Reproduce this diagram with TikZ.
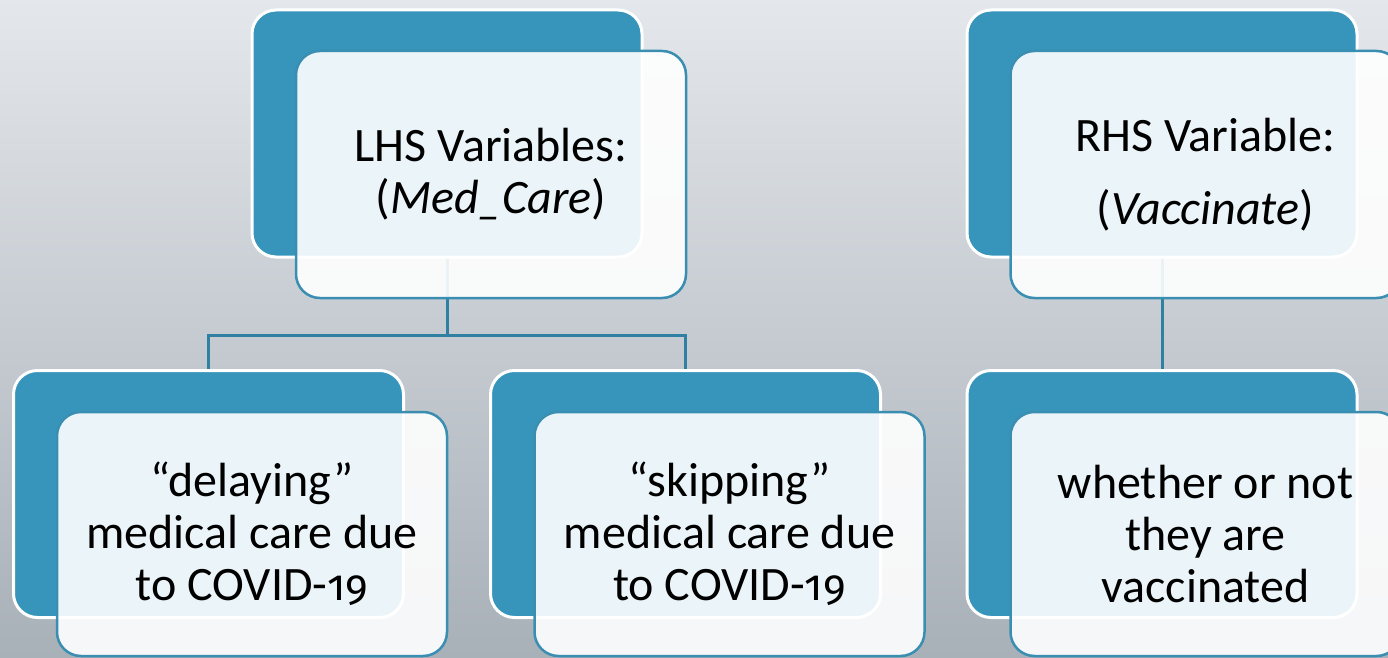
\documentclass[tikz,border=0pt]{standalone}
\usepackage{fontspec}
\setmainfont{Carlito}
\newfontfamily\osfdigits{Fira Sans}[Numbers=OldStyle, Scale=0.9]
\newcommand{\covidnum}{{\osfdigits 19}}
\definecolor{teal1}{HTML}{3795BB}
\definecolor{tealline}{HTML}{2F80A3}
\definecolor{frontline}{HTML}{3A8EB2}
\definecolor{bgtop}{HTML}{E4E7EB}
\definecolor{bgbot}{HTML}{A8B0B8}
\tikzset{
  backbox/.style={rectangle, rounded corners=24pt, fill=teal1, draw=white, line width=3pt,
    minimum width=390pt, minimum height=247pt, inner sep=0pt},
  frontbox/.style={rectangle, rounded corners=24pt, fill=white, fill opacity=0.9, text opacity=1,
    draw=frontline, draw opacity=1, line width=2.5pt, minimum width=390pt, minimum height=247pt,
    inner sep=0pt, align=center, font=\fontsize{48}{52}\selectfont, text=black},
  link/.style={draw=tealline, line width=3pt}
}
\begin{document}
\begin{tikzpicture}[x=1pt,y=1pt]
\shade[top color=bgtop, bottom color=bgbot] (0,0) rectangle (1388,657);
\useasboundingbox (0,0) rectangle (1388,657);
% back boxes
\node[backbox] (bL) at (447,523.5) {};
\node[backbox] (bR) at (1162,523.5) {};
\node[backbox] (bBL) at (208.5,163) {};
\node[backbox] (bBM) at (685.5,163) {};
\node[backbox] (bBR) at (1162,163) {};
% connectors
\coordinate (jL) at (447,322);
\draw[link] (bL.south) -- (jL);
\draw[link] (bBL.north) |- (jL) -| (bBM.north);
\draw[link] (bR.south) -- (bBR.north);
% front boxes
\node[frontbox] (fL) at (491,482.5) {LHS Variables:\\(\textit{Med\_Care})};
\node[frontbox] (fR) at (1205.5,482.5) {RHS Variable:\\[21pt](\textit{Vaccinate})};
\node[frontbox, minimum height=244pt] (fBL) at (252,123) {“delaying”\\medical care due\\to COVID-\covidnum};
\node[frontbox, minimum height=244pt] (fBM) at (729.5,123) {“skipping”\\medical care due\\to COVID-\covidnum};
\node[frontbox, minimum height=244pt] (fBR) at (1205.5,123) {whether or not\\they are\\vaccinated};
\end{tikzpicture}
\end{document}
